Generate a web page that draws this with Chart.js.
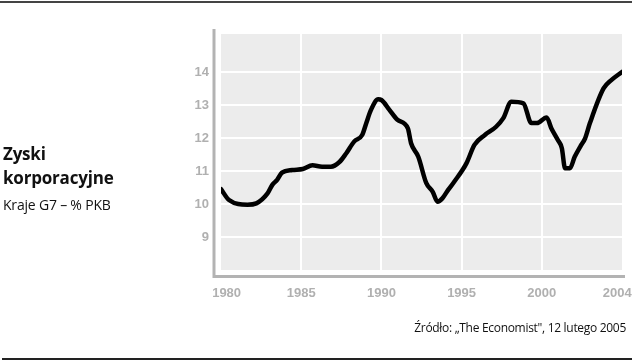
<!DOCTYPE html>
<html>
<head>
<meta charset="utf-8">
<script src="https://cdn.jsdelivr.net/npm/chart.js@4.4.1/dist/chart.umd.min.js"></script>
<style>
  html, body { margin: 0; padding: 0; background: #fff; }
  #wrap { position: relative; width: 632px; height: 363px; overflow: hidden; }
  #c { position: absolute; left: 0; top: 0; }
  .t { position: absolute; font-family: "Open Sans", "Noto Sans", sans-serif; color: #111; white-space: nowrap; }
  #t1 { left: 3px; top: 142px; font-size: 17px; font-weight: 700; line-height: 24px; letter-spacing: -0.2px; }
  #t2 { left: 3px; top: 196px; font-size: 14px; line-height: 18px; letter-spacing: -0.2px; }
  #src { right: 6px; top: 320px; font-size: 12px; line-height: 16px; letter-spacing: -0.3px; }
  #topline { position: absolute; left: 0; top: 1px; width: 632px; height: 2px; background: #444; }
  #botline { position: absolute; left: 2px; top: 358px; width: 630px; height: 2px; background: #222; }
</style>
</head>
<body>
<div id="wrap">
  <canvas id="c" width="632" height="363"></canvas>
  <div id="topline"></div>
  <div id="botline"></div>
  <div class="t" id="t1">Zyski<br>korporacyjne</div>
  <div class="t" id="t2">Kraje G7 – % PKB</div>
  <div class="t" id="src">Źródło: „The Economist", 12 lutego 2005</div>
</div>
<script>
// ---- data ----
const years = [1980.0, 1980.5, 1981.65, 1982.2, 1982.9, 1983.2, 1983.5, 1983.8, 1984.45, 1985.1,
  1985.7, 1986.3, 1986.85, 1987.4, 1987.8, 1988.3, 1988.8, 1989.05, 1989.35, 1989.8,
  1990.0, 1990.5, 1991.0, 1991.65, 1991.85, 1992.3, 1992.8, 1993.2, 1993.5, 1993.8,
  1994.15, 1994.55, 1995.3, 1995.8, 1996.45, 1997.15, 1997.6, 1998.1, 1998.85, 1999.35,
  1999.7, 2000.3, 2000.6, 2001.0, 2001.25, 2001.45, 2001.75, 2002.05, 2002.4, 2002.7,
  2003.0, 2003.85, 2004.35, 2005.0];
const profits = [10.45, 10.12, 9.98, 10.02, 10.32, 10.58, 10.73, 10.95, 11.03, 11.06,
  11.17, 11.13, 11.13, 11.28, 11.53, 11.89, 12.09, 12.44, 12.85, 13.17,
  13.15, 12.85, 12.55, 12.29, 11.84, 11.43, 10.63, 10.37, 10.07, 10.17,
  10.42, 10.68, 11.23, 11.79, 12.09, 12.34, 12.6, 13.1, 13.05, 12.45,
  12.45, 12.62, 12.29, 11.94, 11.69, 11.08, 11.08, 11.43, 11.74, 11.99,
  12.45, 13.5, 13.76, 14.0];
const xTickYears = [1980, 1985, 1990, 1995, 2000, 2004];
const yTickValues = [9, 10, 11, 12, 13, 14];

const points = years.map((y, i) => ({ x: y, y: profits[i] }));

const frame = {
  id: 'frame',
  beforeDraw(chart) {
    const { ctx, chartArea: a } = chart;
    ctx.save();
    ctx.fillStyle = '#ececec';
    ctx.fillRect(a.left, a.top, a.right - a.left, a.bottom - a.top);
    ctx.restore();
  },
  afterDatasetsDraw(chart) {
    const { ctx, chartArea: a } = chart;
    ctx.save();
    ctx.strokeStyle = '#b3b3b3';
    ctx.lineWidth = 3;
    ctx.beginPath();
    ctx.moveTo(a.left - 7, a.top - 5);
    ctx.lineTo(a.left - 7, a.bottom + 6.5);
    ctx.lineTo(a.right + 3, a.bottom + 6.5);
    ctx.stroke();
    ctx.restore();
  }
};

new Chart(document.getElementById('c'), {
  type: 'line',
  data: {
    datasets: [{
      data: points,
      borderColor: '#000',
      borderWidth: 4.5,
      pointRadius: 0,
      cubicInterpolationMode: 'monotone',
      borderCapStyle: 'round',
      borderJoinStyle: 'round',
      fill: false
    }]
  },
  options: {
    responsive: false,
    animation: false,
    layout: { padding: { left: 0, right: 10, top: 34, bottom: 0 } },
    plugins: { legend: { display: false }, tooltip: { enabled: false } },
    scales: {
      x: {
        type: 'linear',
        min: 1980,
        max: 2005,
        afterBuildTicks(scale) {
          scale.ticks = xTickYears.map(v => ({
            value: v === 1980 ? 1980.35 : (v === 2004 ? 2004.7 : v),
            label: String(v)
          }));
        },
        afterFit(scale) { scale.height = 93; scale.paddingLeft = 0; scale.paddingRight = 0; },
        border: { display: false },
        grid: {
          drawTicks: false,
          lineWidth: 2,
          color: ctx => (ctx.tick && ctx.tick.value % 5 === 0 && ctx.tick.value > 1980) ? '#ffffff' : 'rgba(0,0,0,0)'
        },
        ticks: {
          autoSkip: false,
          maxRotation: 0,
          padding: 16,
          color: '#b0b0b0',
          font: { family: '"Liberation Sans Narrow", "Liberation Sans", sans-serif', size: 13, weight: 'bold' },
          callback: (v, i, ticks) => String(xTickYears[i])
        }
      },
      y: {
        min: 8,
        max: 15.15,
        afterBuildTicks(scale) {
          scale.ticks = yTickValues.map(v => ({ value: v }));
        },
        afterFit(scale) { scale.width = 221; scale.paddingTop = 0; scale.paddingBottom = 0; },
        border: { display: false },
        grid: { drawTicks: false, lineWidth: 2, color: '#ffffff' },
        ticks: {
          padding: 12,
          color: '#b0b0b0',
          font: { family: '"Liberation Sans Narrow", "Liberation Sans", sans-serif', size: 13, weight: 'bold' },
          callback: v => String(v)
        }
      }
    }
  },
  plugins: [frame]
});
</script>
</body>
</html>
